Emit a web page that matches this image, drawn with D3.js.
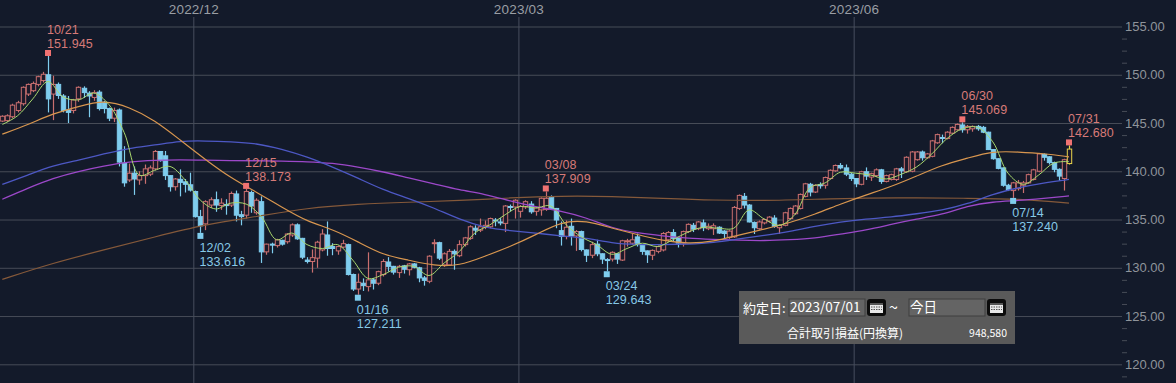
<!DOCTYPE html>
<html>
<head>
<meta charset="utf-8">
<script src="https://cdn.jsdelivr.net/npm/d3@7"></script>
<style>
  html, body { margin: 0; padding: 0; background: #131a2a; overflow: hidden; }
  svg { display: block; }
  text { font-family: "Liberation Sans", sans-serif; }
</style>
</head>
<body>
<div id="chart"></div>
<script>
// daily candles, 2022/10/10 .. 2023/07/31
const opens = [
  145.2,145.25,145.65,146.3,147,148,148.35,149,149.4,150,
  148,149,147.8,146.35,146.3,147.5,148.6,148.1,147.65,148.2,
  147.15,146.5,145.5,146.35,140.85,139.1,139.8,139.1,139.55,139.7,
  140.25,142.05,141.6,139.55,138.4,139.17,138.9,138.6,137.9,135.3,
  134.55,136.5,137.05,136.45,136.55,136.5,137.65,135.5,135.45,137.8,
  135.7,136.85,131.65,132.45,132.3,132.85,132.7,133.4,134.45,133.05,
  130.8,130.65,131,131.85,133.4,132.2,131.75,132.15,132.4,129.3,
  127.8,128.4,128.05,128.75,128.4,129.3,130.6,130.15,129.5,130.2,
  129.8,130.4,130,128.95,128.6,132.5,132.6,130.3,130.3,131.7,
  131.25,132.4,133.05,134.1,133.9,134.2,134.25,134.95,134.75,134.6,
  136.35,136.3,135.85,136.3,136.6,135.85,136,136.05,137.3,136.15,
  133.85,133.25,134.3,133.3,133.75,131.85,131.3,132.45,131.45,130.85,
  130.9,131.45,130.8,132.75,132.55,133.2,132.4,131.75,131.3,131.7,
  131.85,132.9,133.65,133.05,132.55,133.75,134.4,134.05,134.65,134.05,
  134.05,134.2,133.8,133.15,133.2,136.15,137.4,136.5,134.7,134.05,
  134.65,134.85,135.15,134.15,134.4,135.1,135.6,136.15,137.4,138.65,
  137.85,138.6,138.55,139.25,140.05,140.6,140.35,139.7,139.25,138.65,
  139.95,139.4,139.55,140.15,138.95,139.15,139.15,140.25,139.95,140,
  141.2,142,141.4,141.55,142.95,143.5,143.4,143.95,144.3,144.8,
  144.3,144.4,144.65,144.55,144.05,142.25,141.3,140.35,138.55,138,
  138.2,138.55,138.8,139.15,140,141.75,141.5,140.9,140.2,139.25,
  140.8
];
const closes = [
  145.7,145.75,146.85,147.1,148.7,149,149.1,149.8,150.05,147.5,
  149,147.85,146.3,146.1,147.4,148.7,148.15,147.8,148.15,146.5,
  146.5,145.5,146.3,140.95,138.8,139.8,139.2,139.55,140.25,140.35,
  142.05,141.1,139.55,138.4,139.2,138.85,138.65,138.05,135.3,134.35,
  136.85,137.05,136.5,136.7,136.45,137.7,135.45,135.3,137.9,136.4,
  137,131.65,132.45,132.35,132.9,132.45,133.5,134.45,133,131.1,
  130.65,131.05,132.65,133.5,132,132,132.2,132.5,129.3,127.8,
  128.5,128.15,128.75,128.4,129.6,130.65,130.15,129.55,130.15,129.85,
  130.4,130.05,128.95,128.7,131.2,132.6,131,131.45,131.7,131.45,
  132.4,133.1,134.25,133.9,134.25,134.4,135.1,134.9,134.65,136.4,
  136.3,137,136.35,136.85,135.8,136.2,137.2,137.2,136.15,134.95,
  133.25,134.2,133.3,133.75,131.9,131.3,132.4,131.45,130.9,130.8,
  131.6,130.9,132.8,132.8,132.9,132.4,131.7,131.35,131.8,132.2,
  133.55,133.65,133.05,132.55,133.75,134.5,134,134.75,134.15,134.3,
  134.35,133.6,133.55,133.8,136.25,137.5,136.5,134.75,134.15,134.75,
  135,135.25,134.3,134.4,135.7,136.15,136.4,137.6,138.7,137.85,
  138.55,138.5,139.35,140.1,140.6,140.35,139.7,139.25,138.7,139.95,
  139.5,139.75,140.15,138.95,139.55,139.65,140.25,140.05,141.45,142,
  142,141.4,141.8,143.15,143.8,143.4,144.05,144.55,144.85,144.3,
  144.65,144.65,144.4,144.05,142.25,141.3,140.3,138.55,138.1,138.8,
  138.8,138.8,139.65,140.15,141.8,141.45,140.9,140.2,139.5,141.2,
  142.3
];
const highs = [
  145.8,145.9,147,147.3,148.8,149.1,149.3,149.9,150.3,151.945,
  149.9,149.2,148,147.8,147.5,148.8,148.8,148.3,148.4,148.4,
  147.3,146.6,146.6,146.5,142.6,140.8,140.5,140,140.7,140.6,
  142.2,142.1,142.1,139.6,139.3,140.2,139.2,139.85,138,136,
  137,137.3,137.9,137.2,137.1,137.9,138,135.9,138.173,138,
  137.2,137.4,132.5,132.6,133,132.9,133.6,134.6,134.6,133.1,
  131.1,131.9,132.8,134,134.8,132.55,132.3,132.9,132.5,129.4,
  129.4,128.9,131.6,128.95,129.7,130.9,131.1,130.2,130.3,130.3,
  130.5,130.5,130.1,129.15,131.3,132.95,132.7,131.6,131.95,131.9,
  132.85,133.2,134.4,134.4,135.1,134.9,135.2,135.15,135.15,136.5,
  136.55,137.1,136.5,137,136.9,136.3,137.3,137.909,137.5,136.2,
  134.8,134.9,135.1,133.9,133.85,131.9,132.7,132.9,131.5,131,
  131.7,131.5,132.9,133,133.55,133.55,132.45,131.8,131.9,132.3,
  133.7,133.8,134,133.1,133.85,134.6,134.65,134.85,135,134.6,
  134.6,134.3,133.9,133.9,136.4,137.6,137.75,136.6,134.8,134.9,
  135.1,135.35,135.45,134.5,135.8,136.25,136.5,137.7,138.8,138.8,
  138.65,138.85,139.45,140.2,140.7,140.85,140.7,139.85,139.3,140.05,
  140.4,139.85,140.3,140.25,139.65,139.75,140.35,140.45,141.55,142.1,
  142.1,142.15,141.9,143.25,143.9,143.8,144.15,144.65,144.95,145.069,
  144.8,144.75,144.8,144.7,144.1,142.3,141.35,140.4,138.7,138.9,
  139.1,139,139.75,140.25,141.9,141.85,141.55,141,140.3,141.3,
  142.68
];
const lows = [
  145.1,145.1,145.5,146.1,146.8,147.8,148.2,148.8,149.2,146.1,
  145.3,147.5,146.1,145,146,147.2,147.6,145.6,147.3,146.3,
  146,145.2,145.1,140.5,138.4,138.9,137.55,138.6,138.7,139.5,
  140.1,141,139.1,137.9,138,137.4,137.8,137.9,135.2,133.616,
  133.9,136.2,135.8,136,135.5,136.3,134.8,134.4,135.1,135.7,
  135.5,130.5,131.35,131.5,132.1,132.3,132.5,133.2,132.9,130.9,
  130.45,129.5,130,131.7,131.25,131.3,131.35,132,129.2,127.6,
  127.211,127.6,127.55,127.75,128.2,129.1,129.6,129.3,128.95,129.4,
  129.2,129.95,128.5,128.15,128.4,131.5,130.8,130.1,130.2,129.8,
  131.1,132.2,132.9,133.4,133.7,134,134.1,134.3,134.4,133.7,
  135.85,135.1,135.2,136.1,135.6,135.4,135.4,135.9,136,134.1,
  132.3,132.95,132.3,131.75,131.7,130.6,131,131.2,130.4,129.643,
  130.65,130.4,130.7,132.2,132.4,132.2,131.35,130.5,130.8,131.5,
  131.7,132.7,132.7,132.1,132.2,133.6,133.7,133.9,133.8,133.9,
  133.4,133.5,133,133,133.1,136,136.15,134.7,133.5,133.95,
  134.5,134.7,134.15,133.5,134.3,135,135.5,136.05,137.3,137.4,
  137.75,138.2,138.2,139.15,139.95,140.2,139.5,139,138.35,138.55,
  139.1,139,139.4,138.7,138.85,139.05,139,139.3,139.85,139.9,
  141.1,141.1,141.3,141.45,142.85,142.9,143.3,143.85,144.2,144,
  143.9,144.1,144.2,143.95,142.2,141.2,140.2,138.4,137.95,137.24,
  138,137.75,138.7,139.05,139.9,141.1,140.7,139.9,139,138,
  140.7
];

// moving averages, sampled every few bars
const ma5Index = [0,3,6,9,12,15,18,21,24,27,30,33,36,39,42,45,48,51,54,57,60,63,66,69,72,75,78,81,84,87,90,93,96,99,102,105,108,111,114,117,120,123,126,129,132,135,138,141,144,147,150,153,156,159,162,165,168,171,174,177,180,183,186,189,192,195,198,201,204,207,210];
const ma5 = [144.85,145.75,147.5,149.3,147.7,147.4,148.1,146.9,144,139.6,140.1,140.5,139.1,137,136.1,136.7,136.6,135.3,132.9,133.6,132.4,132,132.4,130.8,128.9,129.3,130.05,130.15,129.2,130.5,131.7,133.6,134.45,135.5,136.35,136.2,136.4,134.45,133.2,132.4,131.4,132,132.55,132.2,132.9,133.7,134.2,134.1,134.1,136,135.05,134.4,135.5,138.3,138.8,139.9,139.8,139.6,139.2,139.7,140.45,141.8,143.4,144.4,144.55,143.05,139.8,138.65,139.6,140.85,141];

const maIndex = [0,5,10,15,20,25,30,35,40,45,50,55,60,65,70,75,80,85,90,95,100,105,110,115,120,125,130,135,140,145,150,155,160,165,170,175,180,185,190,195,200,205,210];
const ma25 = [143.85,144.8,146,146.7,147.4,146.65,145.3,143.25,141.2,139.3,137.85,136.3,134.8,134,132.7,131.3,130.8,130.2,130.2,131.2,132.2,133.4,134.8,134.9,134.1,133.45,132.8,132.5,132.7,133.4,134,134.65,135.55,136.6,137.55,138.4,139.5,140.65,141.35,142.1,142,141.85,141.5];
const ma75 = [138.65,139.6,140.6,141.15,141.8,142.4,142.7,143.15,143.15,143.05,142.9,142.3,141.5,140.45,139.3,138.05,137.2,136.2,135,134.15,133.85,133.6,133.3,133.1,132.55,132.4,132.4,132.45,132.6,133,133.35,133.75,134.3,134.75,135.05,135.25,135.6,135.95,136.6,137.65,138.3,138.8,139.15];
const ma90 = [137.1,138.25,139.3,140,140.55,141,141.15,141.2,141.15,141.1,141.1,141.05,141,140.85,140.45,139.95,139.3,138.7,138.05,137.65,136.9,136.3,135.9,135.2,134.1,133.6,133.3,133.05,132.95,132.85,132.8,132.9,133.05,133.5,133.9,134.5,135.05,135.5,136.4,136.85,136.95,137.2,137.45];

const ma200Index = [0,10,20,30,40,50,60,70,80,90,100,110,120,130,140,150,160,170,180,190,200,210];
const ma200 = [128.8,130.5,131.85,133.2,134.5,135.3,136.2,136.6,136.8,136.95,137.25,137.45,137.4,137.2,137,136.95,137.1,137.25,137.25,137.2,137.15,136.7];

// tick labels
const monthIndex = [38,102,168];
const monthLabels = ["2022/12","2023/03","2023/06"];
const priceMajor = [120,125,130,135,140,145,150,155];

// high / low call-outs
const highIndex = [9,48,107,189,210];
const highDates = ["10/21","12/15","03/08","06/30","07/31"];
const highValues = [151.945,138.173,137.909,145.069,142.680];
const lowIndex = [39,70,119,199];
const lowDates = ["12/02","01/16","03/24","07/14"];
const lowValues = [133.616,127.211,129.643,137.240];

const width = 1176, height = 383;
const UP = "#c96f6f", DOWN = "#7fcdee", MARK_UP = "#f07272";

const svg = d3.select("#chart").append("svg")
  .attr("width", width)
  .attr("height", height);

const x = d3.scaleLinear().domain([0, 210]).range([2.3, 1069]);
const y = d3.scaleLinear().domain([120, 155]).range([364.3, 26.5]);

// GRID + AXES
const gridY = svg.append("g")
  .call(d3.axisRight(y).tickValues(priceMajor).tickSize(1122).tickFormat(""));
gridY.select(".domain").remove();
gridY.selectAll("line").attr("stroke", "#474c57");

const gridX = svg.append("g")
  .attr("transform", "translate(-2,17)")
  .call(d3.axisTop(x).tickValues(monthIndex).tickSize(-(height - 17)).tickPadding(3)
    .tickFormat((d, i) => monthLabels[i]));
gridX.select(".domain").remove();
gridX.selectAll("line").attr("stroke", "#474e5e");
gridX.selectAll("text")
  .attr("fill", "#9a9ea4")
  .attr("font-size", "13.5px")
  .style("letter-spacing", "0.2px");

const minor = d3.range(118.75, 156.25, 1.25).filter(d => d % 5 !== 0);
const minorAxis = svg.append("g")
  .attr("transform", "translate(1122,0)")
  .call(d3.axisRight(y).tickValues(minor).tickSize(5).tickFormat(""));
minorAxis.select(".domain").remove();
minorAxis.selectAll("line").attr("stroke", "#474c57");

const priceAxis = svg.append("g")
  .attr("transform", "translate(1122,0)")
  .call(d3.axisRight(y).tickValues(priceMajor).tickSize(0).tickPadding(3)
    .tickFormat(d3.format(".2f")));
priceAxis.select(".domain").remove();
priceAxis.selectAll("text")
  .attr("fill", "#8f949b")
  .attr("font-size", "13px");

// CANDLES
const bars = d3.range(opens.length);
const last = bars.length - 1;
function barColor(i) {
  if (i === last) return "#e8d44a";
  return closes[i] >= opens[i] ? UP : DOWN;
}

svg.append("g").selectAll("line")
  .data(bars)
  .join("line")
    .attr("x1", i => Math.round(x(i)) + 0.5)
    .attr("x2", i => Math.round(x(i)) + 0.5)
    .attr("y1", i => y(highs[i]))
    .attr("y2", i => y(lows[i]))
    .attr("stroke", barColor)
    .attr("stroke-width", 1.2);

svg.append("g").selectAll("rect")
  .data(bars)
  .join("rect")
    .attr("x", i => Math.round(x(i)) - 1.7)
    .attr("width", 4.4)
    .attr("y", i => y(Math.max(opens[i], closes[i])))
    .attr("height", i => Math.max(1, Math.abs(y(opens[i]) - y(closes[i]))))
    .attr("fill", i => closes[i] >= opens[i] ? "#1d1a2a" : DOWN)
    .attr("stroke", barColor)
    .attr("stroke-width", 1);

// MOVING AVERAGES
function drawLine(idx, vals, color, w, curve) {
  const line = d3.line()
    .x((d, i) => x(idx[i]))
    .y(d => y(d))
    .curve(curve);
  svg.append("path")
    .datum(vals)
    .attr("d", line)
    .attr("fill", "none")
    .attr("stroke", color)
    .attr("stroke-width", w);
}
drawLine(ma200Index, ma200, "#85593a", 1.2, d3.curveBasis);
drawLine(maIndex, ma90, "#9c48c9", 1.3, d3.curveBasis);
drawLine(maIndex, ma75, "#4d58c4", 1.3, d3.curveBasis);
drawLine(maIndex, ma25, "#d8964f", 1.2, d3.curveBasis);
drawLine(ma5Index, ma5, "#a9d86e", 1, d3.curveCatmullRom);

// HIGH / LOW MARKERS
svg.append("g").selectAll("rect")
  .data(highIndex)
  .join("rect")
    .attr("x", d => x(d) - 3)
    .attr("y", (d, i) => y(highValues[i]) - 6)
    .attr("width", 6)
    .attr("height", 6)
    .attr("fill", MARK_UP);

svg.append("g").selectAll("rect")
  .data(lowIndex)
  .join("rect")
    .attr("x", d => x(d) - 3)
    .attr("y", (d, i) => y(lowValues[i]))
    .attr("width", 6)
    .attr("height", 6)
    .attr("fill", DOWN);

function addLabels(idx, lines, color, dy) {
  svg.append("g").selectAll("text")
    .data(idx)
    .join("text")
      .attr("x", d => x(d) - 1)
      .attr("y", (d, i) => dy(i))
      .text((d, i) => lines[i])
      .attr("font-size", "12.5px")
      .attr("fill", color)
      .style("letter-spacing", "0.1px");
}
const fix3 = d3.format(".3f");
addLabels(highIndex, highDates, "#d77a78", i => y(highValues[i]) - 22);
addLabels(highIndex, highValues.map(fix3), "#d77a78", i => y(highValues[i]) - 8);
addLabels(lowIndex, lowDates, "#86c8e6", i => y(lowValues[i]) + 19);
addLabels(lowIndex, lowValues.map(fix3), "#86c8e6", i => y(lowValues[i]) + 33);

// DATE PANEL
const panel = svg.append("g").attr("transform", "translate(739,291)");
const CJK = '"Noto Sans CJK JP", sans-serif';
panel.append("rect").attr("width", 276).attr("height", 53).attr("fill", "#5a5a5a");

function field(fx, w, label) {
  panel.append("rect")
    .attr("x", fx).attr("y", 8).attr("width", w).attr("height", 17)
    .attr("fill", "#646464").attr("stroke", "#3e3e3e");
  panel.append("text")
    .attr("x", fx + 1).attr("y", 21)
    .text(label)
    .attr("font-size", "13.5px")
    .attr("fill", "#ffffff")
    .style("font-family", CJK);
}
function calendar(cx) {
  const b = panel.append("g").attr("transform", `translate(${cx},8)`);
  b.append("rect").attr("width", 19).attr("height", 17).attr("rx", 3).attr("fill", "#0c0c0c");
  b.append("rect").attr("x", 3).attr("y", 4).attr("width", 13).attr("height", 10).attr("fill", "#e8e8e8");
  b.append("rect").attr("x", 3).attr("y", 4).attr("width", 13).attr("height", 2).attr("fill", "#555555");
  [8, 10.5].forEach(ly => {
    b.append("line").attr("x1", 4).attr("x2", 15).attr("y1", ly).attr("y2", ly)
      .attr("stroke", "#555555").attr("stroke-dasharray", "1.5 1");
  });
}
panel.append("text").attr("x", 4).attr("y", 22).text("約定日:")
  .attr("font-size", "13px").attr("fill", "#ffffff").style("font-family", CJK);
field(50, 76, "2023/07/01");
calendar(128);
panel.append("text").attr("x", 150).attr("y", 22).text("~")
  .attr("font-size", "16px").attr("fill", "#ffffff").style("font-family", CJK);
field(170, 76, "今日");
calendar(248);
panel.append("text").attr("x", 48).attr("y", 47).text("合計取引損益(円換算)")
  .attr("font-size", "12px").attr("fill", "#ffffff").style("font-family", CJK);
panel.append("text").attr("x", 268).attr("y", 46).attr("text-anchor", "end").text("948,580")
  .attr("font-size", "10.5px").attr("fill", "#ffffff").style("font-family", CJK);
</script>
</body>
</html>
